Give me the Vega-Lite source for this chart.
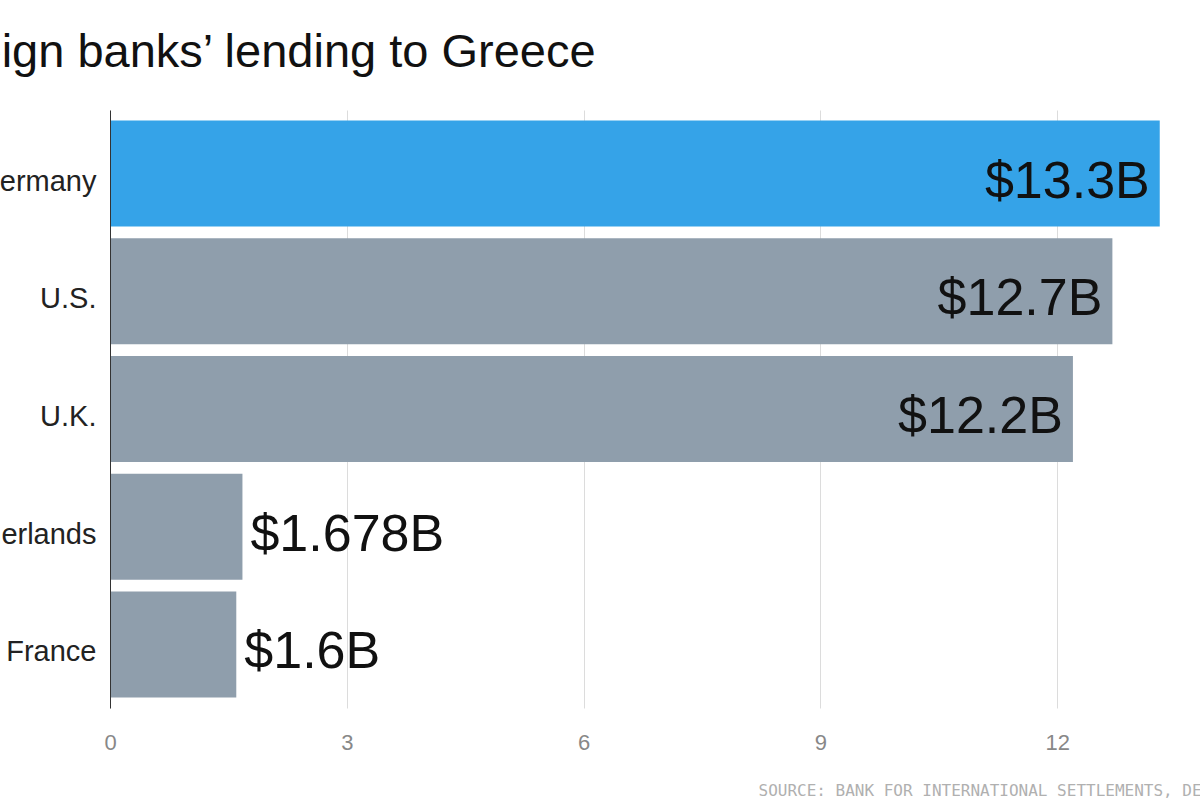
{
  "$schema": "https://vega.github.io/schema/vega-lite/v6.json",
  "usermeta": {"embedOptions": {"actions": false}},
  "width": 1090,
  "height": 598,
  "autosize": {"type": "none"},
  "padding": {"left": 110, "top": 110, "right": 0, "bottom": 92},
  "background": "white",
  "title": {
    "text": "Foreign banks’ lending to Greece",
    "anchor": "start",
    "frame": "group",
    "dx": -205,
    "offset": 33,
    "font": "Liberation Sans",
    "fontSize": 47,
    "fontWeight": "normal",
    "color": "#111111"
  },
  "data": {
    "values": [
      {"country": "Germany", "value": 13.3, "label": "$13.3B"},
      {"country": "U.S.", "value": 12.7, "label": "$12.7B"},
      {"country": "U.K.", "value": 12.2, "label": "$12.2B"},
      {"country": "Netherlands", "value": 1.678, "label": "$1.678B"},
      {"country": "France", "value": 1.6, "label": "$1.6B"}
    ]
  },
  "encoding": {
    "y": {
      "field": "country",
      "type": "nominal",
      "sort": null,
      "scale": {"paddingInner": 0.1, "paddingOuter": 0.09},
      "axis": {
        "title": null,
        "ticks": false,
        "grid": false,
        "labelPadding": 14,
        "labelOffset": 8,
        "labelFont": "Liberation Sans",
        "labelFontSize": 29,
        "labelColor": "#222222",
        "labelLimit": 400,
        "domainColor": "#333333",
        "domainWidth": 1,
        "zindex": 1
      }
    },
    "x": {
      "field": "value",
      "type": "quantitative",
      "scale": {"domain": [0, 13.81], "nice": false},
      "axis": {
        "values": [0, 3, 6, 9, 12],
        "grid": true,
        "gridColor": "#dcdcdc",
        "domain": false,
        "ticks": false,
        "labelFlush": false,
        "labelPadding": 24,
        "labelFont": "Liberation Sans",
        "labelFontSize": 22,
        "labelColor": "#888888",
        "title": "SOURCE: BANK FOR INTERNATIONAL SETTLEMENTS, DECEMBER 2014",
        "titleX": 648,
        "titleY": 82,
        "titleAlign": "left",
        "titleAnchor": "start",
        "titleBaseline": "middle",
        "titleFont": "DejaVu Sans Mono",
        "titleFontSize": 16,
        "titleFontWeight": "normal",
        "titleColor": "#b0b0b0",
        "zindex": 0
      }
    }
  },
  "layer": [
    {
      "mark": {"type": "bar"},
      "encoding": {
        "color": {
          "condition": {"test": "datum.country === 'Germany'", "value": "#35a3e8"},
          "value": "#8f9eac"
        }
      }
    },
    {
      "transform": [{"filter": "datum.value > 5"}],
      "mark": {"type": "text", "align": "right", "baseline": "middle", "dx": -10, "dy": 8, "font": "Liberation Sans", "fontSize": 52, "color": "#111111"},
      "encoding": {"text": {"field": "label"}}
    },
    {
      "transform": [{"filter": "datum.value <= 5"}],
      "mark": {"type": "text", "align": "left", "baseline": "middle", "dx": 8, "dy": 8, "font": "Liberation Sans", "fontSize": 52, "color": "#111111"},
      "encoding": {"text": {"field": "label"}}
    }
  ],
  "config": {"view": {"stroke": null}}
}
